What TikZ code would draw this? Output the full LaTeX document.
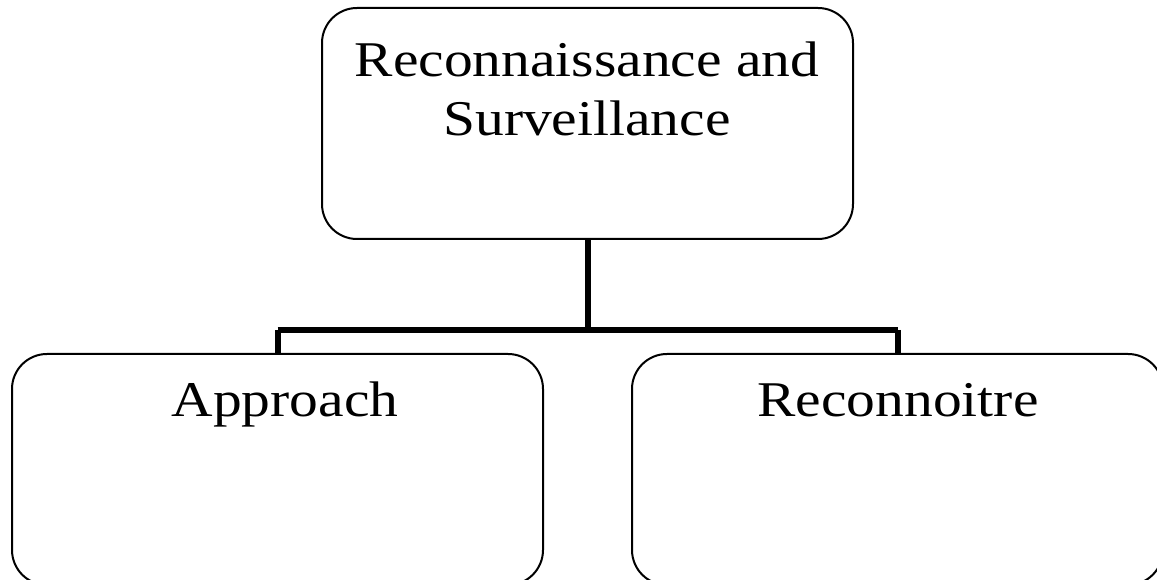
\documentclass[tikz,border=0pt]{standalone}
\usepackage{fontspec}
\setmainfont[FakeStretch=1.15]{Liberation Serif}
\begin{document}
\begin{tikzpicture}[x=1pt,y=1pt,
  box/.style={draw=black, line width=2pt, rounded corners=35pt, fill=none},
  lbl/.style={anchor=base, inner sep=0pt, align=center, font=\fontsize{50}{59}\selectfont},
  conn/.style={line width=6pt, draw=black}]
\clip (0,0) rectangle (1157,580);
\useasboundingbox (0,0) rectangle (1157,580);
% boxes
\node[box, minimum width=531pt, minimum height=231pt, inner sep=0pt] (top) at (587.5,456.5) {};
\node[box, minimum width=531pt, minimum height=231pt, inner sep=0pt] (left) at (277.5,110.5) {};
\node[box, minimum width=531pt, minimum height=231pt, inner sep=0pt] (right) at (897.5,110.5) {};
% labels
\node[lbl] (toptext) at (587,444) {Reconnaissance and\\Surveillance};
\node[lbl] (lefttext) at (285,163) {Approach};
\node[lbl] (righttext) at (898,163) {Reconnoitre};
% connectors
\coordinate (j) at (587.5,250);
\draw[conn] (top.south) -- (j);
\draw[conn] (left.north |- j) -- (right.north |- j);
\draw[conn] (left.north |- j) -- (left.north);
\draw[conn] (right.north |- j) -- (right.north);
\end{tikzpicture}
\end{document}
